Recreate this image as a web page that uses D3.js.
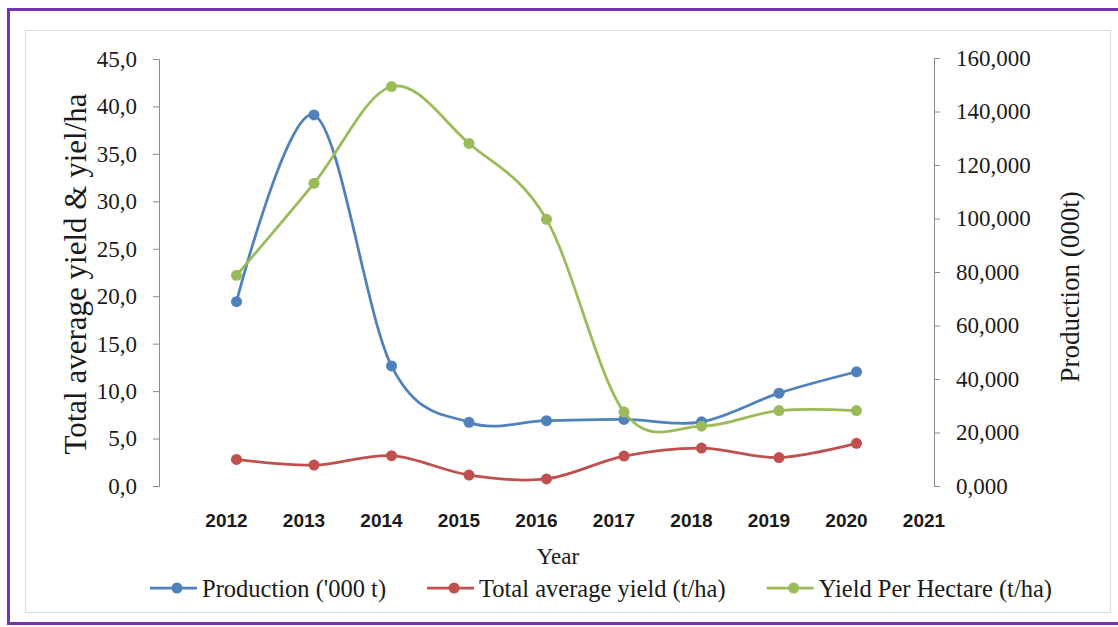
<!DOCTYPE html>
<html>
<head>
<meta charset="utf-8">
<script src="https://cdn.jsdelivr.net/npm/d3@7"></script>
<style>
  html, body { margin: 0; padding: 0; background: #ffffff; }
  svg { display: block; }
</style>
</head>
<body>
<svg id="chart" width="1118" height="627"></svg>
<script>
// ---- data ----
const years = [2012, 2013, 2014, 2015, 2016, 2017, 2018, 2019, 2020];
const xTickLabels = [2012, 2013, 2014, 2015, 2016, 2017, 2018, 2019, 2020, 2021];
const production = [68.9, 138.7, 44.9, 23.8, 24.4, 24.9, 24.0, 34.7, 42.7];      // '000 t (right axis)
const totalAverageYield = [2.8, 2.2, 3.2, 1.15, 0.75, 3.15, 4.0, 3.0, 4.5];      // t/ha (left axis)
const yieldPerHectare = [22.2, 31.9, 42.1, 36.1, 28.1, 7.8, 6.3, 7.95, 7.95];    // t/ha (left axis)
const leftTicks = [0, 5, 10, 15, 20, 25, 30, 35, 40, 45];
const rightTicks = [0, 20, 40, 60, 80, 100, 120, 140, 160];
const seriesNames = ["Production ('000 t)", "Total average yield (t/ha)", "Yield Per Hectare (t/ha)"];
const seriesColors = ["#4F81BD", "#C0504D", "#9BBB59"];

// ---- layout ----
const svg = d3.select("#chart");
const serif = "'Liberation Serif', 'Times New Roman', serif";

// outer purple frame
svg.append("rect").attr("x", 8.5).attr("y", 9.5).attr("width", 1118).attr("height", 614)
  .attr("fill", "#ffffff").attr("stroke", "#7434b4").attr("stroke-width", 3);
// chart area border
svg.append("rect").attr("x", 25.5).attr("y", 30.5).attr("width", 1085).attr("height", 582)
  .attr("fill", "#ffffff").attr("stroke", "#d9d9d9").attr("stroke-width", 1);

const x = d3.scaleLinear().domain([2011, 2021]).range([159, 934]);
const yL = d3.scaleLinear().domain([0, 45]).range([486, 59]);
const yR = d3.scaleLinear().domain([0, 160]).range([486, 58]);

const commaFmt = (digits) => (d) => d.toFixed(digits).replace(".", ",");

const leftAxis = svg.append("g").attr("transform", "translate(159,0)")
  .call(d3.axisLeft(yL).tickValues(leftTicks).tickSize(6).tickPadding(16).tickFormat(commaFmt(1)));
const rightAxis = svg.append("g").attr("transform", "translate(934,0)")
  .call(d3.axisRight(yR).tickValues(rightTicks).tickSize(6).tickPadding(16).tickFormat(commaFmt(3)));
[leftAxis, rightAxis].forEach(g => {
  g.select(".domain").attr("stroke", "#8c8c8c").attr("stroke-width", 1);
  g.selectAll(".tick line").attr("stroke", "#8c8c8c");
  g.selectAll(".tick text").attr("fill", "#1a1a1a").style("font-family", serif).style("font-size", "23px");
});

// x labels (no axis line in the original)
svg.append("g").selectAll("text").data(xTickLabels).join("text")
  .attr("x", d => x(d) - 10).attr("y", 520)
  .attr("text-anchor", "middle").attr("dominant-baseline", "central")
  .style("font-family", "'Liberation Sans Narrow', 'Liberation Sans', Arial, sans-serif")
  .style("font-weight", "bold").style("font-size", "19px").attr("fill", "#1a1a1a")
  .text(d => d);

// axis titles
svg.append("text").attr("transform", "translate(75,274) rotate(-90)")
  .attr("text-anchor", "middle").attr("dominant-baseline", "central")
  .style("font-family", serif).style("font-size", "31px").attr("fill", "#1a1a1a")
  .text("Total average yield & yiel/ha");
svg.append("text").attr("transform", "translate(1070,287) rotate(-90)")
  .attr("text-anchor", "middle").attr("dominant-baseline", "central")
  .style("font-family", serif).style("font-size", "27px").attr("fill", "#1a1a1a")
  .text("Production (000t)");
svg.append("text").attr("x", 558).attr("y", 556)
  .attr("text-anchor", "middle").attr("dominant-baseline", "central")
  .style("font-family", serif).style("font-size", "23px").attr("fill", "#1a1a1a")
  .text("Year");

// series
const series = [
  { name: seriesNames[0], color: seriesColors[0], values: production, y: yR },
  { name: seriesNames[1], color: seriesColors[1], values: totalAverageYield, y: yL },
  { name: seriesNames[2], color: seriesColors[2], values: yieldPerHectare, y: yL }
];
series.forEach(s => {
  const pts = years.map((yr, i) => [yr, s.values[i]]);
  const line = d3.line().x(d => x(d[0])).y(d => s.y(d[1])).curve(d3.curveCardinal.tension(0));
  svg.append("path").attr("d", line(pts)).attr("fill", "none")
    .attr("stroke", s.color).attr("stroke-width", 2.75);
  svg.append("g").selectAll("circle").data(pts).join("circle")
    .attr("cx", d => x(d[0])).attr("cy", d => s.y(d[1])).attr("r", 5.5)
    .attr("fill", s.color);
});

// legend
const legend = svg.append("g");
let lx = 150;
const ly = 588;
series.forEach(s => {
  legend.append("line").attr("x1", lx).attr("x2", lx + 47).attr("y1", ly).attr("y2", ly)
    .attr("stroke", s.color).attr("stroke-width", 2.75);
  legend.append("circle").attr("cx", lx + 27).attr("cy", ly).attr("r", 5.5).attr("fill", s.color);
  const t = legend.append("text").attr("x", lx + 52).attr("y", ly)
    .attr("dominant-baseline", "central")
    .style("font-family", serif).style("font-size", "24.5px").attr("fill", "#1a1a1a")
    .text(s.name);
  lx = lx + 52 + t.node().getComputedTextLength() + 41;
});
</script>
</body>
</html>
